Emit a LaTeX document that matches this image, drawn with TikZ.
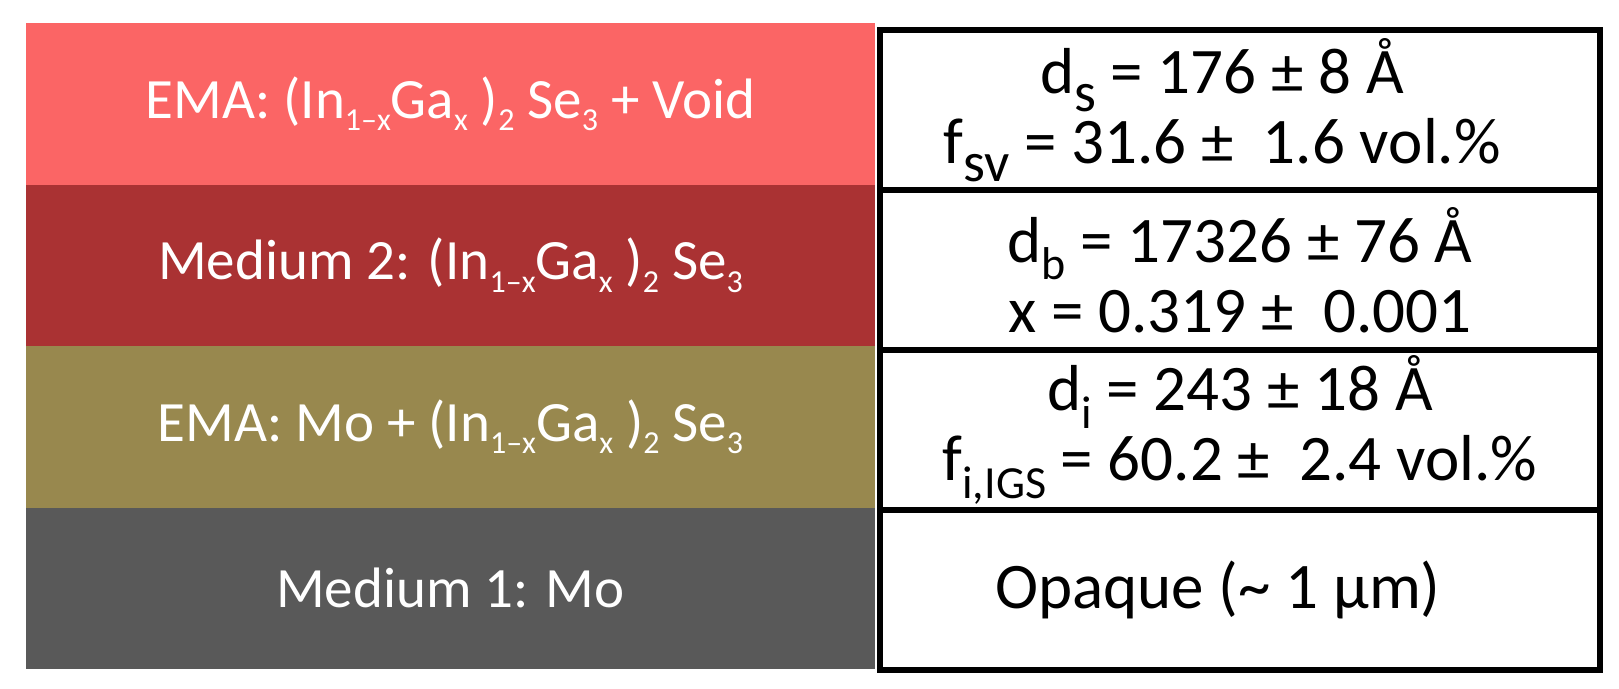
\documentclass[tikz,border=0pt]{standalone}
\usepackage{fontspec}
\setmainfont{Carlito}
\usepackage{tikz}

\definecolor{voidred}{RGB}{251,101,101}
\definecolor{igsred}{RGB}{170,50,51}
\definecolor{emagold}{RGB}{152,136,78}
\definecolor{mogray}{RGB}{89,89,89}

% subscripts for the layer names and for the fitted values
\newcommand{\lsub}[1]{\raisebox{-0.22em}{\fontsize{32}{32}\selectfont #1}}
\newcommand{\rsub}[2][46]{\raisebox{-0.27em}{\fontsize{#1}{#1}\selectfont #2}}

\begin{document}
\begin{tikzpicture}[x=1pt, y=-1pt, node distance=161.5pt, inner sep=0pt]
    \tikzstyle{layer}=[rectangle, minimum width=849pt, minimum height=161.5pt, text=white, font=\fontsize{57}{68}\selectfont]
    \tikzstyle{result}=[rectangle, draw=black, line width=6pt, fill=white, minimum width=720pt, minimum height=160pt, align=center, font=\fontsize{65}{70}\selectfont, node distance=160pt]

    \useasboundingbox (0,0) rectangle (1619,688);

    \node[layer, fill=voidred] (L4) at (450.5,103.75) {EMA: (In\lsub{1–x}Ga\lsub{x} )\lsub{2} Se\lsub{3} + Void};
    \node[layer, fill=igsred] (L3) [below of=L4] {Medium 2: (In\lsub{1–x}Ga\lsub{x} )\lsub{2} Se\lsub{3}};
    \node[layer, fill=emagold] (L2) [below of=L3] {EMA: Mo + (In\lsub{1–x}Ga\lsub{x} )\lsub{2} Se\lsub{3}};
    \node[layer, fill=mogray] (L1) [below of=L2] {Medium 1: Mo};

    \node[result] (B4) at (1240,110) {d\rsub[56]{s} = 176 ± 8 Å\hspace*{36pt}\\ f\rsub[56]{sv} = 31.6 ±~~1.6 vol.\%\hspace*{36pt}};
    \node[result] (B3) [below of=B4] {d\rsub{b} = 17326 ± 76 Å\\ x = 0.319 ±~~0.001};
    \node[result] (B2) [below of=B3] {d\rsub{i} = 243 ± 18 Å\\ f\rsub{i,IGS} = 60.2 ±~~2.4 vol.\%};
    \node[result] (B1) [below of=B2] {Opaque (\textasciitilde{} 1 μm)\hspace*{44pt}};
\end{tikzpicture}
\end{document}
